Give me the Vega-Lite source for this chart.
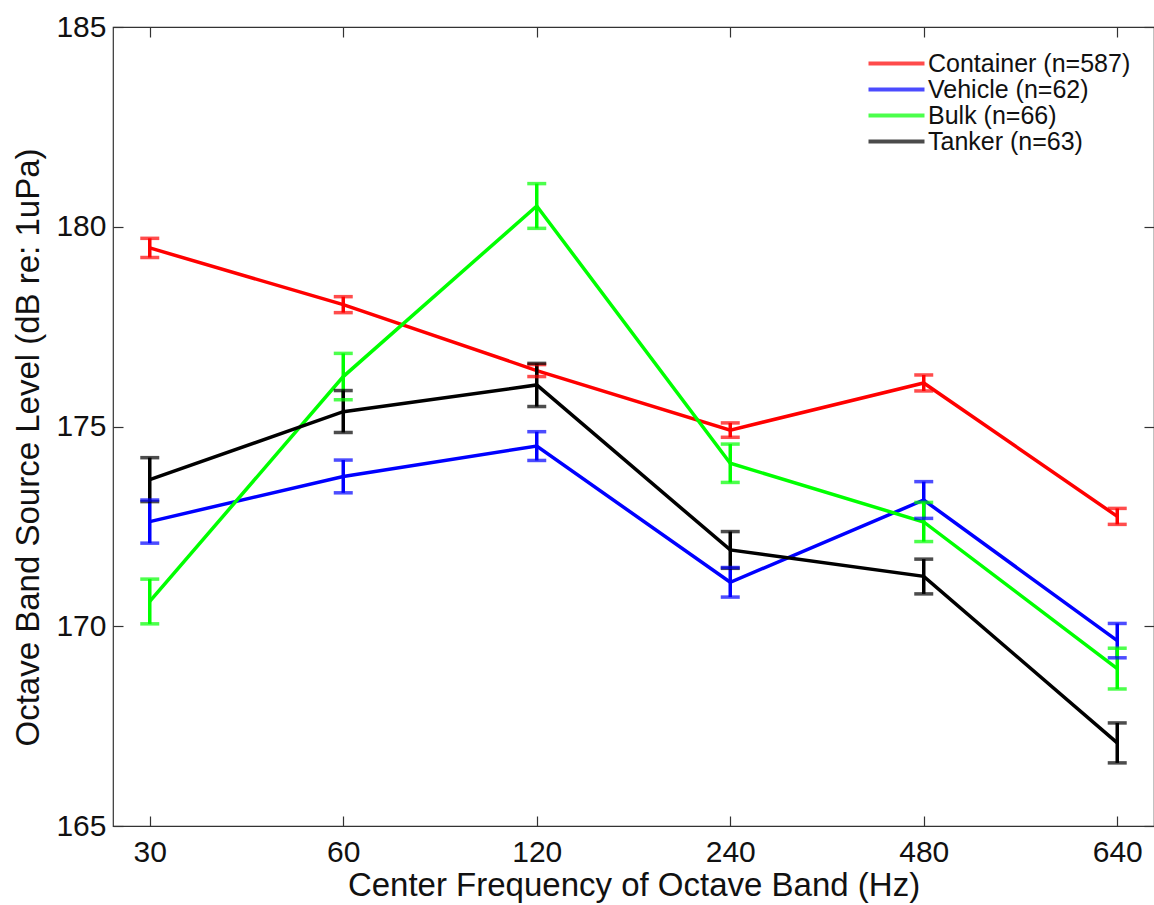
{
  "$schema": "https://vega.github.io/schema/vega-lite/v6.json",
  "autosize": {"type": "none"},
  "padding": {"left": 113, "top": 27, "right": 0, "bottom": 79},
  "width": 1041,
  "height": 799,
  "background": "white",
  "config": {
    "view": {"stroke": "#333333", "strokeWidth": 1.2},
    "font": "Liberation Sans",
    "axis": {
      "domain": false,
      "grid": false,
      "tickSize": -10,
      "tickColor": "#333333",
      "tickWidth": 1.2,
      "labelFont": "Liberation Sans",
      "labelFontSize": 30,
      "labelColor": "#111111",
      "titleFont": "Liberation Sans",
      "titleFontSize": 33,
      "titleFontWeight": "normal",
      "titleColor": "#111111"
    }
  },
  "data": {
    "values": [
      {"type": "Container (n=587)", "freq": "30", "mean": 179.47, "lo": 179.23, "hi": 179.71},
      {"type": "Container (n=587)", "freq": "60", "mean": 178.05, "lo": 177.85, "hi": 178.25},
      {"type": "Container (n=587)", "freq": "120", "mean": 176.4, "lo": 176.25, "hi": 176.55},
      {"type": "Container (n=587)", "freq": "240", "mean": 174.91, "lo": 174.73, "hi": 175.09},
      {"type": "Container (n=587)", "freq": "480", "mean": 176.09, "lo": 175.89, "hi": 176.29},
      {"type": "Container (n=587)", "freq": "640", "mean": 172.75, "lo": 172.55, "hi": 172.95},
      {"type": "Vehicle (n=62)", "freq": "30", "mean": 172.62, "lo": 172.08, "hi": 173.16},
      {"type": "Vehicle (n=62)", "freq": "60", "mean": 173.75, "lo": 173.34, "hi": 174.16},
      {"type": "Vehicle (n=62)", "freq": "120", "mean": 174.51, "lo": 174.15, "hi": 174.87},
      {"type": "Vehicle (n=62)", "freq": "240", "mean": 171.1, "lo": 170.73, "hi": 171.47},
      {"type": "Vehicle (n=62)", "freq": "480", "mean": 173.16, "lo": 172.7, "hi": 173.62},
      {"type": "Vehicle (n=62)", "freq": "640", "mean": 169.64, "lo": 169.21, "hi": 170.07},
      {"type": "Bulk (n=66)", "freq": "30", "mean": 170.62, "lo": 170.06, "hi": 171.18},
      {"type": "Bulk (n=66)", "freq": "60", "mean": 176.25, "lo": 175.67, "hi": 176.83},
      {"type": "Bulk (n=66)", "freq": "120", "mean": 180.52, "lo": 179.96, "hi": 181.08},
      {"type": "Bulk (n=66)", "freq": "240", "mean": 174.08, "lo": 173.6, "hi": 174.56},
      {"type": "Bulk (n=66)", "freq": "480", "mean": 172.61, "lo": 172.12, "hi": 173.1},
      {"type": "Bulk (n=66)", "freq": "640", "mean": 168.94, "lo": 168.43, "hi": 169.45},
      {"type": "Tanker (n=63)", "freq": "30", "mean": 173.67, "lo": 173.12, "hi": 174.22},
      {"type": "Tanker (n=63)", "freq": "60", "mean": 175.37, "lo": 174.85, "hi": 175.9},
      {"type": "Tanker (n=63)", "freq": "120", "mean": 176.04, "lo": 175.5, "hi": 176.58},
      {"type": "Tanker (n=63)", "freq": "240", "mean": 171.91, "lo": 171.45, "hi": 172.37},
      {"type": "Tanker (n=63)", "freq": "480", "mean": 171.25, "lo": 170.81, "hi": 171.68},
      {"type": "Tanker (n=63)", "freq": "640", "mean": 167.08, "lo": 166.58, "hi": 167.58}
    ]
  },
  "resolve": {"axis": {"x": "independent", "y": "independent"}},
  "layer": [
    {
      "mark": {"type": "line", "strokeWidth": 3.5},
      "encoding": {
        "x": {
          "field": "freq", "type": "ordinal",
          "scale": {"type": "point", "domain": ["30", "60", "120", "240", "480", "640"], "padding": 0.19},
          "axis": {"orient": "bottom", "labelAngle": 0, "labelPadding": 21, "title": "Center Frequency of Octave Band (Hz)", "titlePadding": 2}
        },
        "y": {
          "field": "mean", "type": "quantitative",
          "scale": {"domain": [165, 185], "nice": false, "zero": false},
          "axis": {"orient": "left", "values": [165, 170, 175, 180, 185], "labelPadding": 17, "title": "Octave Band Source Level (dB re: 1uPa)", "titlePadding": 10, "titleY": 420}
        },
        "color": {
          "field": "type", "type": "nominal",
          "scale": {
            "domain": ["Container (n=587)", "Vehicle (n=62)", "Bulk (n=66)", "Tanker (n=63)"],
            "range": ["#ff0000", "#0000ff", "#00ff00", "#000000"]
          },
          "legend": {
            "title": null,
            "orient": "none",
            "legendX": 771,
            "legendY": 24,
            "padding": 0,
            "symbolType": "M-2.8,0H2.8",
            "symbolSize": 400,
            "symbolStrokeWidth": 4,
            "symbolFillColor": "transparent",
            "labelFont": "Liberation Sans",
            "labelFontSize": 25,
            "labelColor": "#111111",
            "labelOffset": 19,
            "rowPadding": -1,
            "labelLimit": 400
          }
        }
      }
    },
    {
      "mark": {"type": "rule", "strokeWidth": 3.5},
      "encoding": {
        "x": {
          "field": "freq", "type": "ordinal",
          "axis": {"orient": "top", "labels": false, "title": null}
        },
        "y": {
          "field": "lo", "type": "quantitative",
          "axis": {"orient": "right", "labels": false, "title": null, "values": [165, 170, 175, 180, 185]}
        },
        "y2": {"field": "hi"},
        "color": {"field": "type", "type": "nominal"}
      }
    },
    {
      "mark": {"type": "tick", "orient": "horizontal", "size": 19, "thickness": 3.5},
      "encoding": {
        "x": {"field": "freq", "type": "ordinal", "axis": null},
        "y": {"field": "lo", "type": "quantitative", "axis": null},
        "color": {"field": "type", "type": "nominal"}
      }
    },
    {
      "mark": {"type": "tick", "orient": "horizontal", "size": 19, "thickness": 3.5},
      "encoding": {
        "x": {"field": "freq", "type": "ordinal", "axis": null},
        "y": {"field": "hi", "type": "quantitative", "axis": null},
        "color": {"field": "type", "type": "nominal"}
      }
    }
  ]
}
